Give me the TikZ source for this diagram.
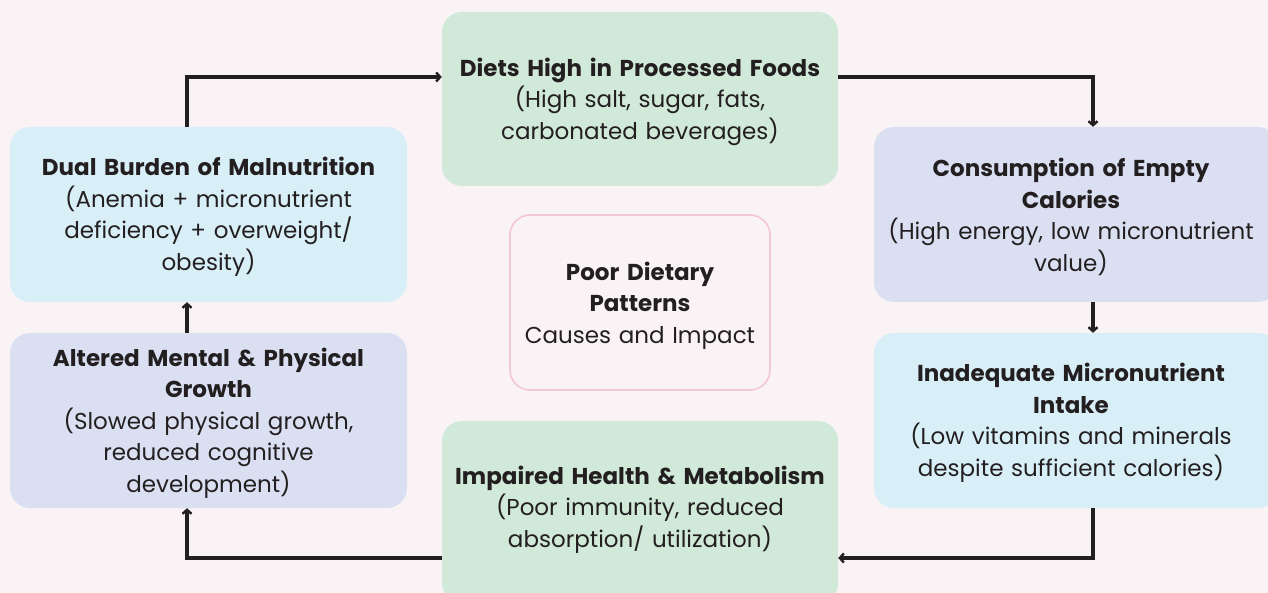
\documentclass[tikz,border=0pt]{standalone}
\usepackage{fontspec}
\setmainfont{Poppins}
\usetikzlibrary{arrows.meta}
\definecolor{bg}{HTML}{F9F3F5}
\definecolor{gfill}{HTML}{D0E9D8}
\definecolor{bfill}{HTML}{D9EFF8}
\definecolor{lfill}{HTML}{DAE0F2}
\definecolor{pborder}{HTML}{F5C6D4}
\definecolor{ink}{HTML}{231F20}
\begin{document}
\begin{tikzpicture}[x=1pt,y=-1pt,
  box/.style={rounded corners=22pt, inner sep=0pt, outer sep=0pt, text width=#1, align=center, font=\fontsize{23}{31.5}\selectfont, text=ink},
  flow/.style={ink, line width=3.6pt, -{Straight Barb[length=4pt,width=9pt,line width=2.4pt]}, line join=miter}
]
\fill[bg] (0,0) rectangle (1268,593);
\useasboundingbox (0,0) rectangle (1268,593);
% boxes (drawn as shapes, nodes for text)
\fill[gfill, rounded corners=20pt] (442,12) rectangle (838,186);
\fill[bfill, rounded corners=20pt] (10,127) rectangle (407,302);
\fill[lfill, rounded corners=20pt] (10,333) rectangle (407,508);
\fill[lfill, rounded corners=20pt] (874,127) rectangle (1278,302);
\fill[bfill, rounded corners=20pt] (874,333) rectangle (1278,508);
\fill[gfill, rounded corners=20pt] (442,421) rectangle (838,603);
\draw[pborder, line width=1.6pt, rounded corners=20pt] (510,215) rectangle (770,390);
% invisible anchor nodes
\node[minimum width=396pt, minimum height=174pt, inner sep=0pt] (top) at (640,99) {};
\node[minimum width=397pt, minimum height=175pt, inner sep=0pt] (dual) at (208.5,214.5) {};
\node[minimum width=397pt, minimum height=175pt, inner sep=0pt] (alt) at (208.5,420.5) {};
\node[minimum width=394pt, minimum height=175pt, inner sep=0pt] (cons) at (1071,214.5) {};
\node[minimum width=394pt, minimum height=175pt, inner sep=0pt] (inad) at (1071,420.5) {};
\node[minimum width=396pt, minimum height=172pt, inner sep=0pt] (imp) at (640,507) {};
% texts
\node[box=392pt] (ttop) at (640,101.5) {\textbf{Diets High in Processed Foods}\\(High salt, sugar, fats,\\carbonated beverages)};
\node[box=392pt] (tdual) at (208.5,217) {\textbf{Dual Burden of Malnutrition}\\(Anemia + micronutrient\\deficiency + overweight/\\obesity)};
\node[box=392pt] (talt) at (208.5,423) {\textbf{Altered Mental \& Physical}\\\textbf{Growth}\\(Slowed physical growth,\\reduced cognitive\\development)};
\node[box=392pt] (tcons) at (1071,217) {\textbf{Consumption of Empty}\\\textbf{Calories}\\(High energy, low micronutrient\\value)};
\node[box=392pt] (tinad) at (1071,423) {\textbf{Inadequate Micronutrient}\\\textbf{Intake}\\(Low vitamins and minerals\\despite sufficient calories)};
\node[box=392pt] (timp) at (640,509.5) {\textbf{Impaired Health \& Metabolism}\\(Poor immunity, reduced\\absorption/ utilization)};
\node[box=250pt] (center) at (640,305.5) {\textbf{Poor Dietary}\\\textbf{Patterns}\\Causes and Impact};
% connectors
\coordinate (c1) at (187,77);
\coordinate (c2) at (1093,77);
\coordinate (c3) at (1093,558);
\coordinate (c4) at (187,558);
\draw[flow] (dual.north -| c1) -- (c1) -- (top.west |- c1);
\draw[flow] (top.east |- c2) -- (c2) -- (cons.north -| c2);
\draw[flow] (cons.south -| c2) -- (inad.north -| c2);
\draw[flow] (inad.south -| c3) -- (c3) -- (imp.east |- c3);
\draw[flow] (imp.west |- c4) -- (c4) -- (alt.south -| c4);
\draw[flow] (alt.north -| c1) -- (dual.south -| c1);
\end{tikzpicture}
\end{document}
